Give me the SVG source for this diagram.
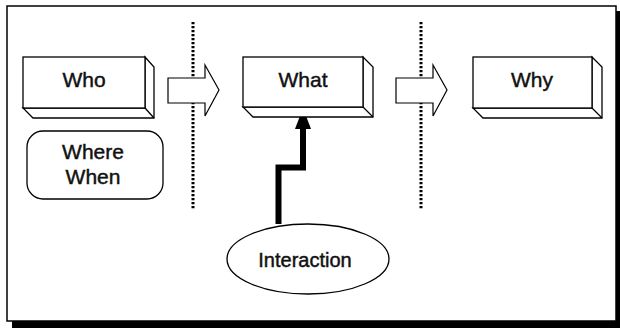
<svg xmlns="http://www.w3.org/2000/svg" width="620" height="329" viewBox="0 0 620 329">
  <defs>
    <style>
      .box { fill: #ffffff; stroke: #000000; stroke-width: 1.3; stroke-linejoin: miter; }
      .lbl { font-family: "Liberation Sans", Arial, sans-serif; font-size: 21px; fill: #111111; stroke: #111111; stroke-width: 0.45; text-anchor: middle; }
      .sep { stroke: #000000; stroke-width: 3; stroke-dasharray: 2.2 1.8; fill: none; }
      .flow { fill: #ffffff; stroke: #000000; stroke-width: 1.2; stroke-linejoin: miter; }
      .link { fill: none; stroke: #000000; stroke-width: 6; stroke-linejoin: miter; }
    </style>
  </defs>

  <!-- page background, drop shadow and frame -->
  <rect x="0" y="0" width="620" height="329" fill="#ffffff"/>
  <rect x="12" y="11" width="608" height="317" fill="#000000"/>
  <rect x="7" y="6" width="609" height="315" fill="#ffffff" stroke="#000000" stroke-width="1.5"/>

  <!-- dotted separators -->
  <g id="separators">
    <line class="sep" x1="193" y1="22" x2="193" y2="210"/>
    <line class="sep" x1="421" y1="22" x2="421" y2="210"/>
  </g>

  <!-- connectors -->
  <g id="connectors">
    <path class="flow" d="M168 78 H205 V65 L219 90 L205 116 V103 H168 Z"/>
    <path class="flow" d="M396 78 H433 V65 L447 90 L433 116 V103 H396 Z"/>
    <path class="link" d="M278.5 224 V167.5 H303 V128"/>
    <path d="M303 108 L311 129 L295 129 Z" fill="#000000"/>
  </g>

  <!-- Who -->
  <g id="who">
    <path class="box" d="M145 57 L154 67 V118 H33 L23 108 H145 Z"/>
    <line class="box" x1="145" y1="108" x2="154" y2="118"/>
    <rect class="box" x="23" y="57" width="122" height="51"/>
    <text class="lbl" x="84" y="87">Who</text>
  </g>

  <!-- Where / When -->
  <g id="where-when">
    <rect class="box" x="27" y="131" width="136" height="68" rx="16" ry="16"/>
    <text class="lbl" x="93" y="159">Where</text>
    <text class="lbl" x="93" y="184">When</text>
  </g>

  <!-- What -->
  <g id="what">
    <path class="box" d="M363 57 L373 67 V117 H253 L243 107 H363 Z"/>
    <line class="box" x1="363" y1="107" x2="373" y2="117"/>
    <rect class="box" x="243" y="57" width="120" height="50"/>
    <text class="lbl" x="303" y="87">What</text>
  </g>

  <!-- Why -->
  <g id="why">
    <path class="box" d="M592 57 L602 67 V118 H483 L473 108 H592 Z"/>
    <line class="box" x1="592" y1="108" x2="602" y2="118"/>
    <rect class="box" x="473" y="57" width="119" height="51"/>
    <text class="lbl" x="532" y="87">Why</text>
  </g>

  <!-- Interaction -->
  <g id="interaction">
    <ellipse class="box" cx="308" cy="259" rx="81" ry="35"/>
    <text class="lbl" x="305" y="267" style="font-size:20px">Interaction</text>
  </g>
</svg>
